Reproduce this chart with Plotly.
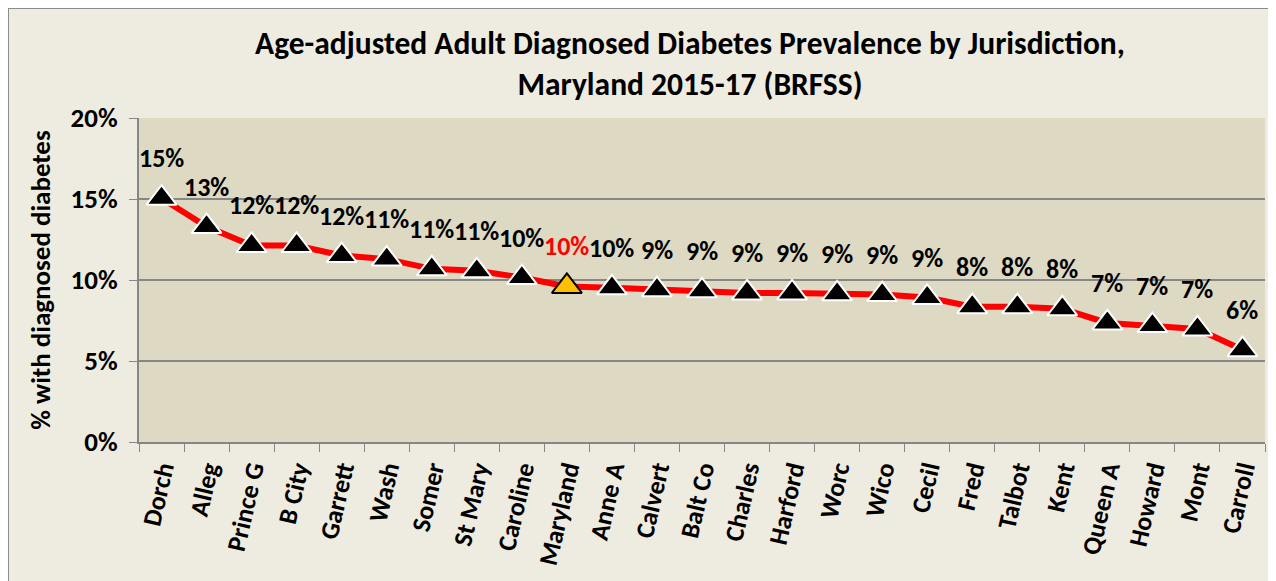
import plotly.graph_objects as go

jurisdictions = ['Dorch', 'Alleg', 'Prince G', 'B City', 'Garrett', 'Wash', 'Somer',
                 'St Mary', 'Caroline', 'Maryland', 'Anne A', 'Calvert', 'Balt Co',
                 'Charles', 'Harford', 'Worc', 'Wico', 'Cecil', 'Fred', 'Talbot',
                 'Kent', 'Queen A', 'Howard', 'Mont', 'Carroll']
prevalence = [15.05, 13.3, 12.13, 12.13, 11.51, 11.29, 10.69, 10.57, 10.15, 9.6,
              9.52, 9.4, 9.33, 9.2, 9.2, 9.15, 9.1, 8.92, 8.35, 8.35,
              8.22, 7.35, 7.19, 6.98, 5.7]
highlight = 'Maryland'
y_ticks = [0, 5, 10, 15, 20]

FONT = 'Carlito, Calibri, Lato, sans-serif'

marker_colors = ['#FFC000' if j == highlight else 'black' for j in jurisdictions]
marker_lines = ['black' if j == highlight else 'white' for j in jurisdictions]

fig = go.Figure()
fig.add_trace(go.Scatter(
    x=jurisdictions,
    y=prevalence,
    mode='lines+markers',
    line=dict(color='#FF0000', width=6),
    marker=dict(symbol='triangle-up', size=26, color=marker_colors,
                line=dict(color=marker_lines, width=2)),
    showlegend=False,
))

for j, v in zip(jurisdictions, prevalence):
    fig.add_annotation(
        x=j, y=v, text=f'<b>{round(v)}%</b>', showarrow=False, yshift=40,
        font=dict(family=FONT, size=26, color='#FF0000' if j == highlight else 'black'),
    )

# chart area border and plot area fill
fig.add_shape(type='rect', xref='paper', yref='paper', layer='below',
              x0=-131 / 1126, x1=1.1, y0=-0.6, y1=1 + 110 / 324,
              fillcolor='#EEECE1', line=dict(color='#8C8C8C', width=2))
fig.add_shape(type='rect', xref='paper', yref='paper', layer='below',
              x0=0, x1=1, y0=0, y1=1, fillcolor='#DDD9C3', line=dict(width=0))

fig.update_layout(
    width=1276, height=581,
    margin=dict(l=131, r=19, t=110, b=147),
    paper_bgcolor='#EEECE1',
    plot_bgcolor='#DDD9C3',
    font=dict(family=FONT, color='black'),
    title=dict(
        text='<b>Age-adjusted Adult Diagnosed Diabetes Prevalence by Jurisdiction,<br>Maryland 2015-17 (BRFSS)</b>',
        x=682 / 1276, xanchor='center', y=1 - 46 / 581, yanchor='middle',
        font=dict(family=FONT, size=31.5, color='black'),
    ),
    xaxis=dict(
        range=[-0.5, len(jurisdictions) - 0.5], automargin=False,
        tickangle=-77,
        tickfont=dict(family=FONT, size=26, color='black'),
        tickprefix='<b>', ticksuffix='</b>',
        showline=True, linecolor='#868686', linewidth=2,
        ticks='outside', tickson='boundaries', ticklen=8, tickcolor='#868686',
        showgrid=False,
    ),
    yaxis=dict(
        range=[0, 20], tickvals=y_ticks, automargin=False,
        ticktext=[f'<b>{t}%</b>' for t in y_ticks],
        tickfont=dict(family=FONT, size=27, color='black'),
        showline=True, linecolor='#868686', linewidth=2,
        ticks='outside', ticklen=8, tickcolor='#868686',
        ticklabelstandoff=6,
        gridcolor='#868686', gridwidth=2,
        zeroline=False,
        title=dict(text='<b>% with diagnosed diabetes</b>',
                   font=dict(family=FONT, size=27, color='black'), standoff=12),
    ),
)

fig.write_html('out.html')
